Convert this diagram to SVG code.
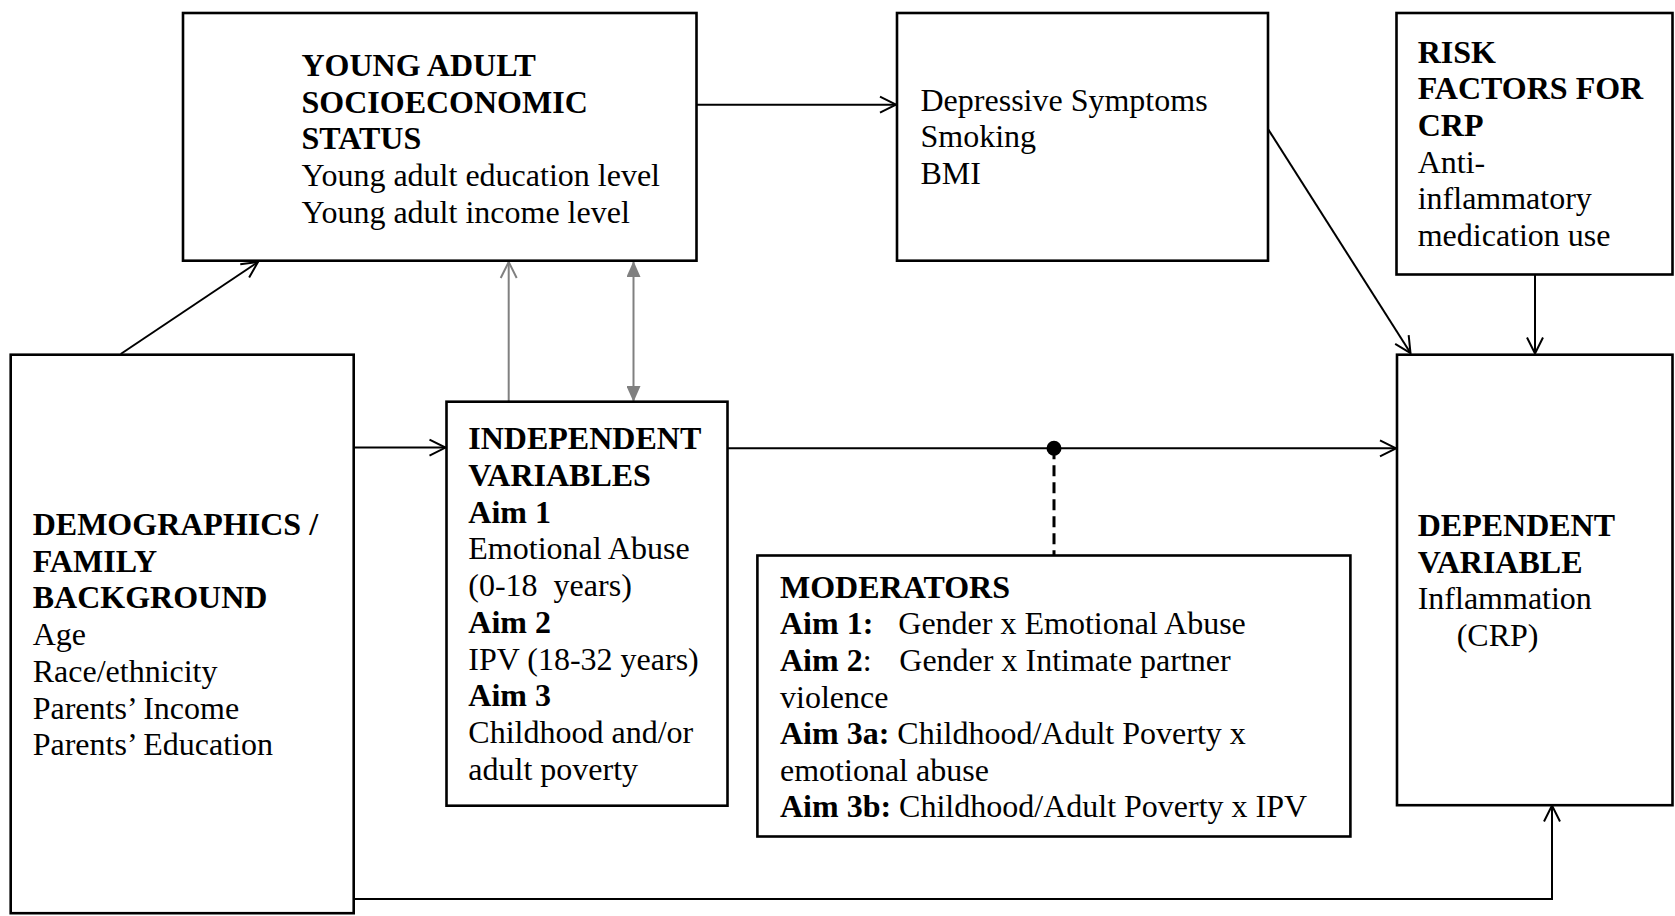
<svg xmlns="http://www.w3.org/2000/svg" width="1675" height="916" viewBox="0 0 1675 916">
<style>
  .box { fill: #ffffff; stroke: #000000; stroke-width: 2.6; }
  text { font-family: "Liberation Serif", "Times New Roman", serif; font-size: 32px; fill: #000000; }
  .b { font-weight: bold; }
  .conn { fill: none; stroke: #000000; stroke-width: 2; }
  .grey { fill: none; stroke: #808080; stroke-width: 2; }
  .dash { fill: none; stroke: #000000; stroke-width: 3; stroke-dasharray: 11 6; }
</style>
<defs>
  <marker id="open" viewBox="0 0 20 20" refX="18" refY="10" markerWidth="20" markerHeight="20" markerUnits="userSpaceOnUse" orient="auto">
    <path d="M2,2 L18,10 L2,18" fill="none" stroke="#000000" stroke-width="2"/>
  </marker>
  <marker id="openGrey" viewBox="0 0 20 20" refX="18" refY="10" markerWidth="20" markerHeight="20" markerUnits="userSpaceOnUse" orient="auto">
    <path d="M2,2 L18,10 L2,18" fill="none" stroke="#808080" stroke-width="2"/>
  </marker>
  <marker id="triGrey" viewBox="0 0 16 14" refX="15" refY="7" markerWidth="16" markerHeight="14" markerUnits="userSpaceOnUse" orient="auto-start-reverse">
    <path d="M0,0 L16,7 L0,14 Z" fill="#808080"/>
  </marker>
</defs>

<g id="connectors">
  <line class="conn" x1="120.7" y1="354" x2="258" y2="262" marker-end="url(#open)"/>
  <line class="conn" x1="697" y1="104.7" x2="896" y2="104.7" marker-end="url(#open)"/>
  <line class="conn" x1="1268" y1="129" x2="1410.5" y2="353" marker-end="url(#open)"/>
  <line class="conn" x1="1535" y1="274.5" x2="1535" y2="353.5" marker-end="url(#open)"/>
  <line class="conn" x1="353.6" y1="447.6" x2="445.5" y2="447.6" marker-end="url(#open)"/>
  <line class="conn" x1="727.5" y1="448.3" x2="1396" y2="448.3" marker-end="url(#open)"/>
  <line class="dash" x1="1054" y1="448.3" x2="1054" y2="555.5"/>
  <circle cx="1054" cy="448.3" r="7.5" fill="#000000"/>
  <line class="grey" x1="508.7" y1="401.7" x2="508.7" y2="262" marker-end="url(#openGrey)"/>
  <line class="grey" x1="633.5" y1="401" x2="633.5" y2="262" marker-start="url(#triGrey)" marker-end="url(#triGrey)"/>
  <path class="conn" d="M353.6,899 H1552 V805.5" marker-end="url(#open)"/>
</g>

<g id="ya-ses">
  <rect class="box" x="183" y="13" width="513.5" height="247.7"/>
  <text x="301.5" y="76" class="b">YOUNG ADULT</text>
  <text x="301.5" y="112.7" class="b">SOCIOECONOMIC</text>
  <text x="301.5" y="149.4" class="b">STATUS</text>
  <text x="301.5" y="186">Young adult education level</text>
  <text x="301.5" y="222.7">Young adult income level</text>
</g>

<g id="mediators">
  <rect class="box" x="897" y="13" width="371" height="247.7"/>
  <text x="920.5" y="110.5">Depressive Symptoms</text>
  <text x="920.5" y="147.2">Smoking</text>
  <text x="920.5" y="183.9">BMI</text>
</g>

<g id="risk-factors">
  <rect class="box" x="1396.5" y="13" width="276" height="261.5"/>
  <text x="1417.7" y="62.7" class="b">RISK</text>
  <text x="1417.7" y="99.3" class="b">FACTORS FOR</text>
  <text x="1417.7" y="135.9" class="b">CRP</text>
  <text x="1417.7" y="172.5">Anti-</text>
  <text x="1417.7" y="209.1">inflammatory</text>
  <text x="1417.7" y="245.7">medication use</text>
</g>

<g id="demographics">
  <rect class="box" x="10.7" y="354.7" width="343" height="558.5"/>
  <text x="32.7" y="535" class="b">DEMOGRAPHICS /</text>
  <text x="32.7" y="571.7" class="b">FAMILY</text>
  <text x="32.7" y="608.4" class="b">BACKGROUND</text>
  <text x="32.7" y="645.1">Age</text>
  <text x="32.7" y="681.8">Race/ethnicity</text>
  <text x="32.7" y="718.5">Parents’ Income</text>
  <text x="32.7" y="755.2">Parents’ Education</text>
</g>

<g id="independent">
  <rect class="box" x="446.5" y="401.7" width="281" height="404"/>
  <text x="468.3" y="449.3" class="b">INDEPENDENT</text>
  <text x="468.3" y="486" class="b">VARIABLES</text>
  <text x="468.3" y="522.7" class="b">Aim 1</text>
  <text x="468.3" y="559.4">Emotional Abuse</text>
  <text x="468.3" y="596.1" xml:space="preserve">(0-18  years)</text>
  <text x="468.3" y="632.8" class="b">Aim 2</text>
  <text x="468.3" y="669.5">IPV (18-32 years)</text>
  <text x="468.3" y="706.2" class="b">Aim 3</text>
  <text x="468.3" y="742.9">Childhood and/or</text>
  <text x="468.3" y="779.6">adult poverty</text>
</g>

<g id="moderators">
  <rect class="box" x="757.4" y="555.5" width="593" height="281"/>
  <text x="780" y="597.7" class="b">MODERATORS</text>
  <text x="780" y="634.3"><tspan class="b">Aim 1:</tspan><tspan x="898.3">Gender x Emotional Abuse</tspan></text>
  <text x="780" y="670.9"><tspan class="b">Aim 2</tspan>:<tspan x="899.3">Gender x Intimate partner</tspan></text>
  <text x="780" y="707.5">violence</text>
  <text x="780" y="744.1"><tspan class="b">Aim 3a:</tspan> Childhood/Adult Poverty x</text>
  <text x="780" y="780.7">emotional abuse</text>
  <text x="780" y="817.3"><tspan class="b">Aim 3b:</tspan> Childhood/Adult Poverty x IPV</text>
</g>

<g id="dependent">
  <rect class="box" x="1397" y="354.7" width="275.5" height="450.5"/>
  <text x="1417.7" y="536" class="b">DEPENDENT</text>
  <text x="1417.7" y="572.7" class="b">VARIABLE</text>
  <text x="1417.7" y="609.4">Inflammation</text>
  <text x="1456.7" y="646.1">(CRP)</text>
</g>
</svg>
